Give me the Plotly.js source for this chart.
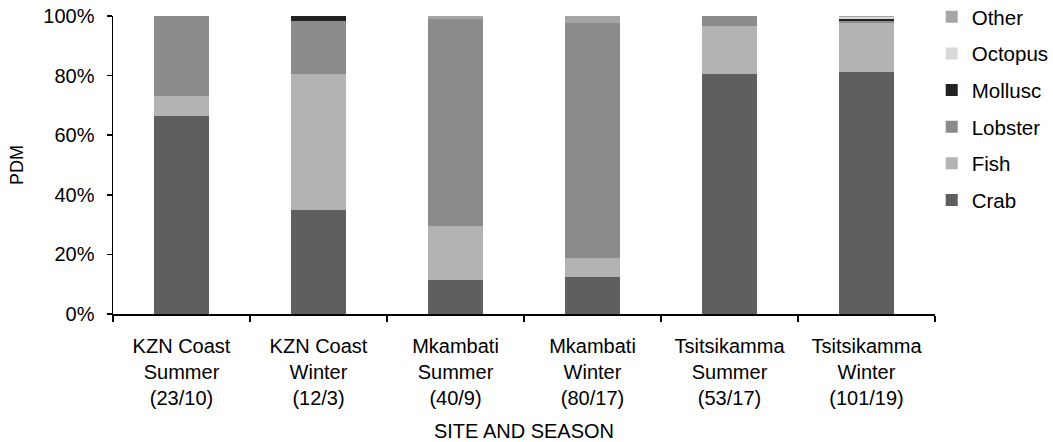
<!DOCTYPE html>
<html>
<head>
<meta charset="utf-8">
<script src="https://cdn.plot.ly/plotly-3.0.1.min.js"></script>
<style>html,body{margin:0;padding:0;background:#fff;}#chart{width:1053px;height:442px;}</style>
</head>
<body>
<div id="chart"></div>
<script>
const categories = [
  "KZN Coast<br>Summer<br>(23/10)",
  "KZN Coast<br>Winter<br>(12/3)",
  "Mkambati<br>Summer<br>(40/9)",
  "Mkambati<br>Winter<br>(80/17)",
  "Tsitsikamma<br>Summer<br>(53/17)",
  "Tsitsikamma<br>Winter<br>(101/19)"
];
const crab    = [66.6, 34.8, 11.4, 12.5, 80.6, 81.2];
const fish    = [6.7, 45.8, 18.1, 6.25, 16.1, 16.5];
const lobster = [26.7, 17.7, 69.4, 78.75, 3.3, 0.7];
const mollusc = [0, 1.7, 0, 0, 0, 0.6];
const octopus = [0, 0, 0, 0, 0, 0.5];
const other   = [0, 0, 1.1, 2.5, 0, 0.5];
const yTickVals = [0, 20, 40, 60, 80, 100];
const yTickText = ["0%", "20%", "40%", "60%", "80%", "100%"];

const seriesNames = ["Crab", "Fish", "Lobster", "Mollusc", "Octopus", "Other"];
const seriesValues = [crab, fish, lobster, mollusc, octopus, other];
const seriesColors = ["#5f5f5f", "#b3b3b3", "#8b8b8b", "#222222", "#d9d9d9", "#a6a6a6"];

const traces = seriesNames.map((n, i) => ({
  type: "bar",
  name: n,
  x: categories,
  y: seriesValues[i],
  marker: {color: seriesColors[i], line: {width: 0}},
  legendgroup: n,
  legendrank: 1000 - i,
  hoverinfo: "x+y+name"
}));

const font = {family: "Liberation Sans, Arial, Helvetica, sans-serif", size: 20, color: "#000"};

const layout = {
  width: 1053, height: 442,
  margin: {l: 113, r: 118, t: 16, b: 128, pad: 0, autoexpand: false},
  barmode: "stack",
  bargap: 0.6,
  paper_bgcolor: "#fff", plot_bgcolor: "#fff",
  font: font,
  showlegend: true,
  legend: {
    x: 0.996, xanchor: "left", y: 1.064, yanchor: "top",
    traceorder: "grouped", tracegroupgap: 7,
    font: {family: font.family, size: 20.5, color: "#000"},
    itemwidth: 30
  },
  xaxis: {
    type: "category",
    showline: true, linecolor: "#000", linewidth: 1.5,
    ticks: "outside", tickson: "boundaries", ticklen: 6, tickcolor: "#000", tickwidth: 1.5,
    tickfont: {family: font.family, size: 20, color: "#000"},
    ticklabelstandoff: 13,
    showgrid: false, zeroline: false,
    title: {text: "SITE AND SEASON", font: {family: font.family, size: 20, color: "#000"}, standoff: 18}
  },
  yaxis: {
    range: [0, 100],
    tickvals: yTickVals, ticktext: yTickText,
    showline: true, linecolor: "#000", linewidth: 1.5,
    ticks: "outside", ticklen: 5, tickcolor: "#000", tickwidth: 1.5,
    tickfont: {family: font.family, size: 20, color: "#000"},
    ticklabelstandoff: 8,
    showgrid: false, zeroline: false,
    title: {text: "PDM", font: {family: font.family, size: 18, color: "#000"}, standoff: 15}
  }
};

Plotly.newPlot("chart", traces, layout, {displayModeBar: false, staticPlot: true});
</script>
</body>
</html>
